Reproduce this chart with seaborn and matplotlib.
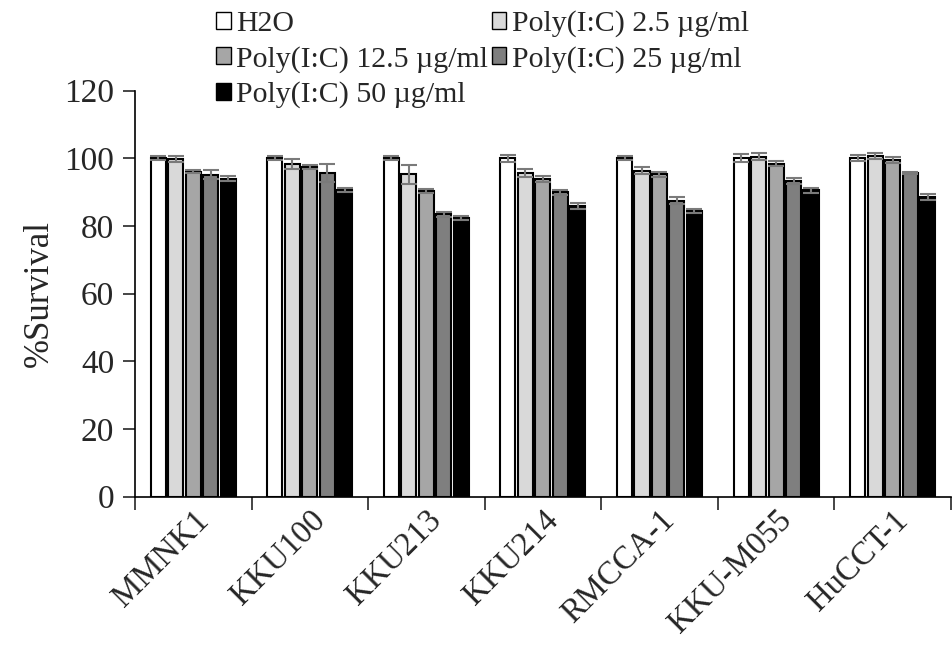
import numpy as np
import pandas as pd
import matplotlib.pyplot as plt
import seaborn as sns
from matplotlib.patches import Patch

# cell lines and treatments
cell_lines = ["MMNK1", "KKU100", "KKU213", "KKU214", "RMCCA-1", "KKU-M055", "HuCCT-1"]
treatments = ["H2O", "Poly(I:C) 2.5 µg/ml", "Poly(I:C) 12.5 µg/ml",
              "Poly(I:C) 25 µg/ml", "Poly(I:C) 50 µg/ml"]

# % survival
h2o = [100, 100, 100, 100, 100, 100, 100]
pic_2_5 = [99.8, 98.3, 95.2, 95.7, 96.3, 100.4, 100.6]
pic_12_5 = [96.0, 97.4, 90.4, 93.8, 95.2, 98.4, 99.5]
pic_25 = [95.1, 95.6, 83.4, 89.9, 87.4, 93.3, 95.5]
pic_50 = [94.0, 90.5, 82.3, 85.9, 84.4, 90.5, 88.5]

# error bars
err_h2o = [0.6, 0.6, 0.6, 1.0, 0.6, 1.2, 0.9]
err_2_5 = [0.9, 1.5, 2.8, 1.2, 1.0, 1.0, 0.9]
err_12_5 = [0.5, 0.6, 0.6, 0.8, 0.7, 0.8, 0.9]
err_25 = [1.3, 2.7, 0.8, 0.8, 1.0, 0.8, 0.3]
err_50 = [0.6, 0.6, 0.7, 1.0, 0.6, 0.8, 0.9]

values = [h2o, pic_2_5, pic_12_5, pic_25, pic_50]
errors = [err_h2o, err_2_5, err_12_5, err_25, err_50]
colors = ["#ffffff", "#d9d9d9", "#a6a6a6", "#7f7f7f", "#000000"]

# long form table for seaborn
rows = []
for t, vals in zip(treatments, values):
    for c, v in zip(cell_lines, vals):
        rows.append({"cell": c, "treatment": t, "survival": v})
df = pd.DataFrame(rows)

sns.set_style("ticks")
plt.rcParams["font.family"] = ["Liberation Serif", "DejaVu Serif"]
plt.rcParams["font.size"] = 24

fig = plt.figure(figsize=(9.52, 6.47), dpi=100)
ax = fig.add_axes([0.1418, 0.2323, 0.857, 0.6278])

sns.barplot(data=df, x="cell", y="survival", hue="treatment",
            hue_order=treatments, order=cell_lines, palette=colors,
            errorbar=None, width=0.75, gap=0.14, edgecolor="black",
            linewidth=1.5, legend=False, ax=ax)

# add the precomputed error bars on top of each bar
for cont, err in zip(ax.containers, errors):
    xs = [p.get_x() + p.get_width() / 2 for p in cont.patches]
    ys = [p.get_height() for p in cont.patches]
    ax.errorbar(xs, ys, yerr=err, fmt="none", ecolor="#7a7a7a",
                elinewidth=1.5, capsize=5.5, capthick=1.5, zorder=5)

ax.set_ylim(0, 120)
ax.set_yticks(np.arange(0, 121, 20))
ax.set_xlim(-0.5, 6.5)
ax.set_xlabel("")
ax.set_ylabel("%Survival", fontsize=25, labelpad=6)

# ticks between categories, labels at the centres
ax.set_xticks(np.arange(-0.5, 7, 1), minor=True)
ax.tick_params(axis="x", which="major", length=0, pad=6, labelsize=23.5)
ax.tick_params(axis="x", which="minor", length=9, width=1.2, direction="out")
ax.tick_params(axis="y", length=9, width=1.2, direction="out", pad=6, labelsize=24)
ax.set_xticklabels(cell_lines, rotation=45, ha="right", rotation_mode="anchor")

sns.despine(ax=ax)
for s in ["left", "bottom"]:
    ax.spines[s].set_linewidth(1.2)
    ax.spines[s].set_color("black")

# legend filled row by row like the original
handles = [Patch(facecolor=c, edgecolor="black", linewidth=1.0) for c in colors]
order = [0, 2, 4, 1, 3]
fig.legend([handles[i] for i in order], [treatments[i] for i in order],
           ncol=2, loc="upper left", bbox_to_anchor=(0.214, 1.003),
           frameon=False, fontsize=21.5, handlelength=0.5, handleheight=0.5,
           handletextpad=0.18, columnspacing=0.12, labelspacing=0.3,
           borderaxespad=0)

fig.savefig("out.png", dpi=100)
